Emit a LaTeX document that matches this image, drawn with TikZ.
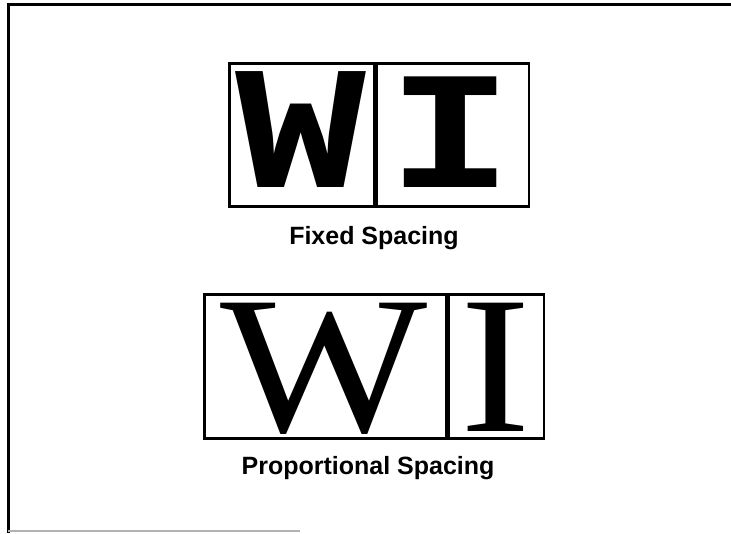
\documentclass[tikz,border=0pt]{standalone}
\usepackage{fontspec}
\setmainfont{Liberation Sans}
\newfontfamily\typewriterfont{Liberation Mono}
\newfontfamily\bookfont{Liberation Serif}
\usepackage{pdfrender}

% letters of the two cells: #1 = x-stretch, #2 = size, #3 = outline width
\newcommand\fixedletter[4]{\scalebox{#1}[1]{\fontsize{#2}{#2}\selectfont\typewriterfont\bfseries
  \textpdfrender{TextRenderingMode=FillStroke,LineWidth=#3,LineJoinStyle=Round,LineCapStyle=Round}{#4}}}
\newcommand\bookletter[2]{\scalebox{#1}[1]{\fontsize{196}{196}\selectfont\bookfont
  \textpdfrender{TextRenderingMode=FillStroke,LineWidth=2.5,LineJoinStyle=Miter}{#2}}}

\begin{document}
\begin{tikzpicture}[x=1pt,y=-1pt]
  \useasboundingbox (0,0) rectangle (731,533);
  \tikzset{
    cellbox/.style={draw,line width=2.6pt,inner sep=0pt,anchor=north west},
    glyph/.style={anchor=base,inner sep=0pt},
    caption/.style={anchor=base,inner sep=0pt,font=\fontsize{25}{30}\selectfont\bfseries}
  }

  % page frame (open on the right)
  \draw[line width=3pt] (731,4) -- (8,4) -- (8,533);
  \draw[line width=1.2pt,gray!60] (8,531) -- (300,531);

  % fixed spacing: two cells of the same width
  \node[cellbox,minimum width=145pt,minimum height=143pt] (fixW) at (228,62) {};
  \node[cellbox,minimum width=152pt,minimum height=143pt] (fixI) at (fixW.north east) {};
  \node[glyph] (fixWlet) at (301,187) {\fixedletter{1.24}{176}{7}{W}};
  \node[glyph] (fixIlet) at (450,187) {\fixedletter{1.23}{168}{12}{I}};
  \node[caption] (fixcap) at (374,244) {Fixed Spacing};

  % proportional spacing: cell width follows the letter
  \node[cellbox,minimum width=242pt,minimum height=144pt] (propW) at (203,293) {};
  \node[cellbox,minimum width=95pt,minimum height=144pt] (propI) at (propW.north east) {};
  \node[glyph] (propWlet) at (324,431) {\bookletter{1.12}{W}};
  \node[glyph] (propIlet) at (496,431) {\bookletter{1.08}{I}};
  \node[caption] (propcap) at (368,474) {Proportional Spacing};

\end{tikzpicture}
\end{document}
